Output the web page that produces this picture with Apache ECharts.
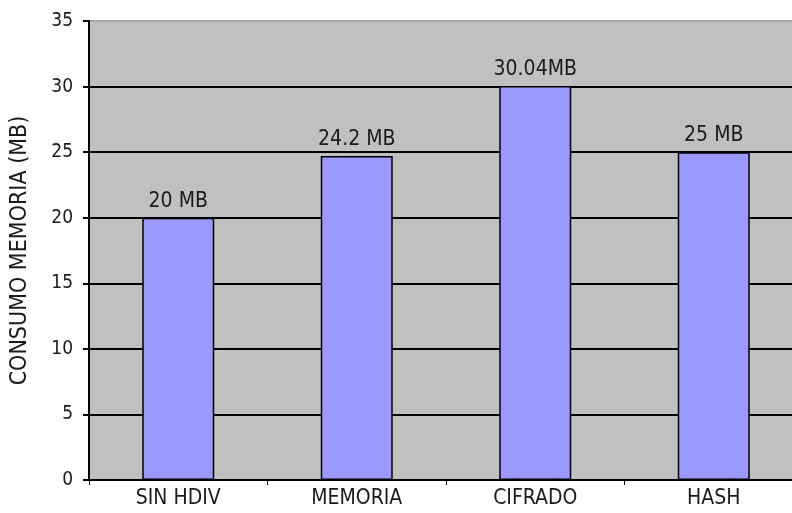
<!DOCTYPE html>
<html>
<head>
<meta charset="utf-8">
<script src="https://cdn.jsdelivr.net/npm/echarts@6/dist/echarts.min.js"></script>
<style>
  html, body { margin: 0; padding: 0; background: #fff; overflow: hidden; }
  #main { width: 804px; height: 513px; }
</style>
</head>
<body>
<div id="main"></div>
<script>
var categorias = ['SIN HDIV', 'MEMORIA', 'CIFRADO', 'HASH'];
var consumo = [20, 24.7, 30.04, 25];
var etiquetas = ['20 MB', '24.2 MB', '30.04MB', '25 MB'];

// the plot area runs past the right edge of the picture, so the chart is a bit wider than the window
var fuente = "'Liberation Sans Narrow', 'DejaVu Sans Condensed', Arial, sans-serif";
var myChart = echarts.init(document.getElementById('main'));
var option = {
    backgroundColor: '#ffffff',
    animation: false,
    textStyle: { fontFamily: fuente },
    grid: {
        left: 89,
        top: 21,
        right: 1,
        bottom: 33,
        show: true,
        backgroundColor: '#c0c0c0',
        borderColor: '#a8a8a8',
        borderWidth: 1
    },
    xAxis: {
        type: 'category',
        data: categorias,
        axisLine: { lineStyle: { color: '#000', width: 2 } },
        axisTick: { show: true, length: 5, lineStyle: { color: '#000' } },
        axisLabel: { color: '#1a1a1a', fontSize: 21, fontFamily: fuente, margin: 8 }
    },
    yAxis: {
        type: 'value',
        min: 0,
        max: 35,
        interval: 5,
        name: 'CONSUMO MEMORIA (MB)',
        nameLocation: 'middle',
        nameGap: 57,
        nameTextStyle: { color: '#1a1a1a', fontSize: 23, fontFamily: fuente },
        axisLine: { show: true, lineStyle: { color: '#000', width: 2 } },
        axisTick: { show: true, length: 6, lineStyle: { color: '#000', width: 2 } },
        axisLabel: { color: '#1a1a1a', fontSize: 19, fontFamily: fuente, margin: 16 },
        splitLine: {
            lineStyle: {
                color: ['#000', '#000', '#000', '#000', '#000', '#000', '#000', '#a8a8a8'],
                width: 2
            }
        }
    },
    series: [{
        type: 'bar',
        data: consumo,
        barWidth: 72,
        itemStyle: { color: '#9999ff', borderColor: '#000', borderWidth: 1.5 },
        label: {
            show: true,
            position: 'top',
            distance: 6,
            color: '#1a1a1a',
            fontSize: 21,
            fontFamily: fuente,
            formatter: function (p) { return etiquetas[p.dataIndex]; }
        }
    }]
};
myChart.setOption(option);
</script>
</body>
</html>
